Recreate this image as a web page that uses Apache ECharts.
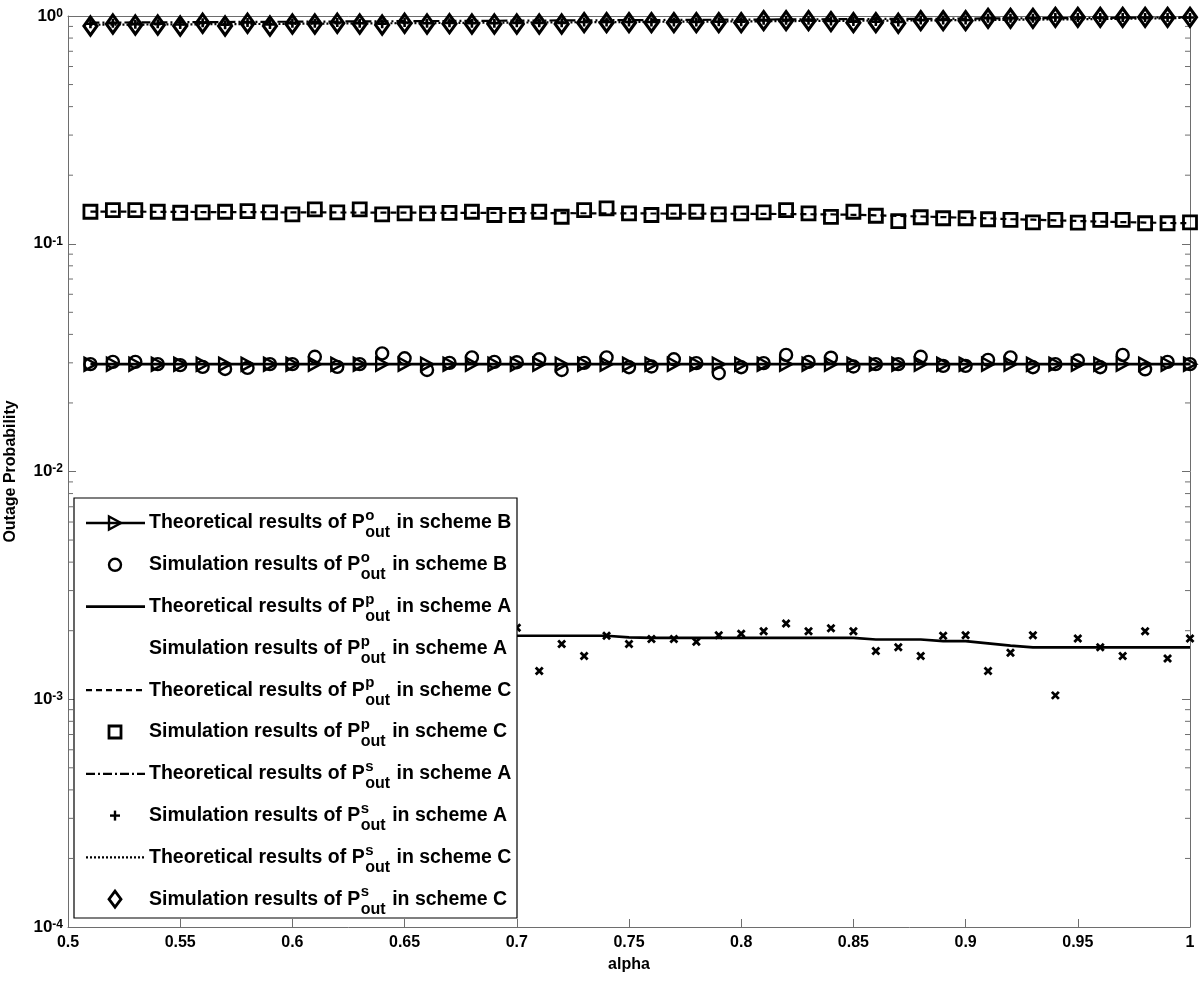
<!DOCTYPE html>
<html>
<head>
<meta charset="utf-8">
<title>Outage Probability vs alpha</title>
<script src="https://cdn.jsdelivr.net/npm/echarts@6/dist/echarts.min.js"></script>
<style>
  html, body { margin: 0; padding: 0; background: #fff; }
  #chart { width: 1200px; height: 981px; }
</style>
</head>
<body>
<div id="chart"></div>
<script>
// x values
const alpha = [0.51, 0.52, 0.53, 0.54, 0.55, 0.56, 0.57, 0.58, 0.59, 0.60,
  0.61, 0.62, 0.63, 0.64, 0.65, 0.66, 0.67, 0.68, 0.69, 0.70,
  0.71, 0.72, 0.73, 0.74, 0.75, 0.76, 0.77, 0.78, 0.79, 0.80,
  0.81, 0.82, 0.83, 0.84, 0.85, 0.86, 0.87, 0.88, 0.89, 0.90,
  0.91, 0.92, 0.93, 0.94, 0.95, 0.96, 0.97, 0.98, 0.99, 1.00];

// P^o_out, scheme B
const theoryOB = [0.0296, 0.0296, 0.0296, 0.0296, 0.0296, 0.0296, 0.0296, 0.0296, 0.0296, 0.0296,
  0.0296, 0.0296, 0.0296, 0.0296, 0.0296, 0.0296, 0.0296, 0.0296, 0.0296, 0.0296,
  0.0296, 0.0296, 0.0296, 0.0296, 0.0296, 0.0296, 0.0296, 0.0296, 0.0296, 0.0296,
  0.0296, 0.0296, 0.0296, 0.0296, 0.0296, 0.0296, 0.0296, 0.0296, 0.0296, 0.0296,
  0.0296, 0.0296, 0.0296, 0.0296, 0.0296, 0.0296, 0.0296, 0.0296, 0.0296, 0.0296];
const simOB = [0.0296, 0.0303, 0.0303, 0.0296, 0.0293, 0.0288, 0.0282, 0.0285, 0.0296, 0.0296,
  0.0319, 0.0288, 0.0296, 0.0330, 0.0314, 0.0279, 0.0300, 0.0317, 0.0303, 0.0302,
  0.0311, 0.0279, 0.0300, 0.0317, 0.0287, 0.0289, 0.0311, 0.0299, 0.0270, 0.0287,
  0.0299, 0.0325, 0.0303, 0.0316, 0.0289, 0.0296, 0.0296, 0.0319, 0.0291, 0.0291,
  0.0309, 0.0317, 0.0287, 0.0296, 0.0307, 0.0287, 0.0325, 0.0281, 0.0303, 0.0296];

// P^p_out, scheme A
const theoryPA = [0.00192, 0.00192, 0.00192, 0.00192, 0.00192, 0.00192, 0.00192, 0.00192, 0.00192, 0.00192,
  0.00192, 0.00192, 0.00192, 0.00192, 0.00192, 0.00192, 0.00192, 0.00192, 0.00192, 0.00190,
  0.00190, 0.00190, 0.00190, 0.00190, 0.00187, 0.00186, 0.00186, 0.00186, 0.00186, 0.00186,
  0.00186, 0.00186, 0.00186, 0.00186, 0.00186, 0.00183, 0.00183, 0.00183, 0.00180, 0.00180,
  0.00176, 0.00172, 0.00169, 0.00169, 0.00169, 0.00169, 0.00169, 0.00169, 0.00169, 0.00169];
const simPA = [0.00185, 0.00172, 0.00195, 0.00160, 0.00188, 0.00178, 0.00201, 0.00166, 0.00190, 0.00183,
  0.00170, 0.00197, 0.00176, 0.00188, 0.00158, 0.00192, 0.00181, 0.00174, 0.00199, 0.00206,
  0.00133, 0.00175, 0.00155, 0.00190, 0.00175, 0.00184, 0.00184, 0.00179, 0.00191, 0.00194,
  0.00199, 0.00215, 0.00199, 0.00205, 0.00199, 0.00163, 0.00169, 0.00155, 0.00190, 0.00191,
  0.00133, 0.00160, 0.00191, 0.00104, 0.00185, 0.00169, 0.00155, 0.00199, 0.00151, 0.00185];

// P^p_out, scheme C
const theoryPC = [0.1385, 0.1385, 0.1383, 0.1381, 0.1380, 0.1378, 0.1377, 0.1376, 0.1375, 0.1374,
  0.1373, 0.1372, 0.1371, 0.1370, 0.1369, 0.1368, 0.1367, 0.1366, 0.1365, 0.1364,
  0.1363, 0.1362, 0.1361, 0.1360, 0.1359, 0.1358, 0.1357, 0.1356, 0.1355, 0.1354,
  0.1352, 0.1350, 0.1348, 0.1345, 0.1340, 0.1333, 0.1325, 0.1317, 0.1309, 0.1300,
  0.1292, 0.1283, 0.1275, 0.1267, 0.1259, 0.1251, 0.1245, 0.1239, 0.1234, 0.1230];
const simPC = [0.1382, 0.1406, 0.1406, 0.1382, 0.1368, 0.1374, 0.1382, 0.1392, 0.1374, 0.1346,
  0.1416, 0.1374, 0.1416, 0.1346, 0.1360, 0.1360, 0.1367, 0.1382, 0.1337, 0.1337,
  0.1382, 0.1314, 0.1406, 0.1430, 0.1360, 0.1337, 0.1382, 0.1382, 0.1346, 0.1360,
  0.1374, 0.1406, 0.1360, 0.1313, 0.1382, 0.1327, 0.1258, 0.1307, 0.1294, 0.1294,
  0.1281, 0.1272, 0.1242, 0.1272, 0.1237, 0.1272, 0.1272, 0.1230, 0.1230, 0.1242];

// P^s_out, scheme A
const theorySA = [0.935, 0.936, 0.937, 0.938, 0.939, 0.940, 0.941, 0.942, 0.943, 0.944,
  0.945, 0.946, 0.947, 0.948, 0.949, 0.950, 0.951, 0.952, 0.953, 0.954,
  0.955, 0.956, 0.957, 0.958, 0.959, 0.960, 0.961, 0.962, 0.963, 0.964,
  0.965, 0.966, 0.967, 0.968, 0.969, 0.970, 0.971, 0.972, 0.973, 0.974,
  0.976, 0.977, 0.978, 0.979, 0.980, 0.981, 0.983, 0.984, 0.986, 0.988];
const simSA = [0.925, 0.930, 0.921, 0.925, 0.918, 0.935, 0.916, 0.937, 0.918, 0.930,
  0.930, 0.937, 0.930, 0.925, 0.937, 0.930, 0.933, 0.930, 0.930, 0.933,
  0.933, 0.933, 0.941, 0.941, 0.941, 0.941, 0.941, 0.941, 0.943, 0.943,
  0.957, 0.957, 0.957, 0.951, 0.945, 0.945, 0.941, 0.960, 0.960, 0.960,
  0.977, 0.977, 0.977, 0.985, 0.985, 0.985, 0.985, 0.985, 0.985, 0.985];

// P^s_out, scheme C
const theorySC = [0.915, 0.916, 0.917, 0.918, 0.919, 0.920, 0.921, 0.922, 0.923, 0.924,
  0.926, 0.927, 0.928, 0.929, 0.930, 0.931, 0.932, 0.933, 0.935, 0.936,
  0.937, 0.938, 0.939, 0.940, 0.941, 0.943, 0.944, 0.945, 0.946, 0.947,
  0.948, 0.950, 0.951, 0.952, 0.953, 0.954, 0.955, 0.957, 0.958, 0.959,
  0.960, 0.962, 0.964, 0.966, 0.968, 0.970, 0.972, 0.975, 0.978, 0.982];
const simSC = [0.904, 0.922, 0.913, 0.913, 0.904, 0.929, 0.904, 0.929, 0.904, 0.922,
  0.922, 0.929, 0.922, 0.913, 0.929, 0.922, 0.925, 0.922, 0.922, 0.922,
  0.922, 0.922, 0.935, 0.935, 0.935, 0.935, 0.935, 0.935, 0.935, 0.935,
  0.954, 0.954, 0.954, 0.945, 0.935, 0.935, 0.929, 0.954, 0.954, 0.954,
  0.977, 0.977, 0.977, 0.987, 0.987, 0.987, 0.987, 0.987, 0.987, 0.987];

// axis ticks
const yDecades = [1e-4, 1e-3, 1e-2, 1e-1];
const yMinorSteps = [2, 3, 4, 5, 6, 7, 8, 9];

// legend text
const legendHead = ['Theoretical results of P', 'Simulation results of P',
  'Theoretical results of P', 'Simulation results of P',
  'Theoretical results of P', 'Simulation results of P',
  'Theoretical results of P', 'Simulation results of P',
  'Theoretical results of P', 'Simulation results of P'];
const legendSup = ['o', 'o', 'p', 'p', 'p', 'p', 's', 's', 's', 's'];
const legendScheme = ['B', 'B', 'A', 'A', 'C', 'C', 'A', 'A', 'C', 'C'];

const FONT = '"Liberation Sans", Arial, Helvetica, sans-serif';
const AXIS_COLOR = '#6e6e6e';
const xMin = 0.5, xMax = 1;

const minorTicks = [];
yDecades.forEach(d => yMinorSteps.forEach(k => minorTicks.push(d * k)));

const zip = (ys) => alpha.map((a, i) => [a, ys[i]]);

// one entry per legend row, in order
const styles = [
  { data: theoryOB, line: 'solid', mark: 'triangle' },
  { data: simOB, line: null, mark: 'circle' },
  { data: theoryPA, line: 'solid', mark: null },
  { data: simPA, line: null, mark: 'cross' },
  { data: theoryPC, line: [6, 4], mark: null },
  { data: simPC, line: null, mark: 'rect' },
  { data: theorySA, line: [9, 3, 2, 3], mark: null },
  { data: simSA, line: null, mark: 'plus' },
  { data: theorySC, line: [2, 2], mark: null },
  { data: simSC, line: null, mark: 'diamond' }
];

const symbolMap = {
  triangle: { symbol: 'triangle', size: [13, 12], rotate: -90, bw: 2.4 },
  circle: { symbol: 'circle', size: 12, bw: 2.4 },
  rect: { symbol: 'rect', size: 13, bw: 2.8 },
  diamond: { symbol: 'diamond', size: [13, 18], bw: 3.2 },
  plus: { symbol: 'path://M5,0L5,10M0,5L10,5', size: 9, bw: 2.6 },
  cross: { symbol: 'path://M0,0L10,10M10,0L0,10', size: 7, bw: 2.8 }
};

const series = styles.map((s, i) => {
  const name = legendHead[i] + legendSup[i] + ' ' + legendScheme[i];
  const sym = s.mark ? symbolMap[s.mark] : null;
  const stroked = s.mark === 'plus' || s.mark === 'cross';
  const item = sym
    ? { color: stroked ? '#000' : 'rgba(0,0,0,0)', borderColor: '#000', borderWidth: sym.bw, opacity: 1 }
    : { color: '#000', opacity: 1 };
  if (s.line) {
    return {
      type: 'line', name, data: zip(s.data),
      showSymbol: !!sym, symbol: sym ? sym.symbol : 'none',
      symbolSize: sym ? sym.size : 0, symbolRotate: sym ? (sym.rotate || 0) : 0,
      lineStyle: { color: '#000', width: s.line === 'solid' ? 2.6 : 2.2, type: s.line },
      itemStyle: item, clip: false, z: 3 + i
    };
  }
  return {
    type: 'scatter', name, data: zip(s.data),
    symbol: sym.symbol, symbolSize: sym.size, symbolRotate: sym.rotate || 0,
    itemStyle: item, clip: false, z: 3 + i
  };
});

// log-spaced minor ticks on left and right frame edges
series.push({
  type: 'custom', name: 'minor ticks', silent: true, z: 1,
  data: minorTicks.map(v => [xMin, v]),
  renderItem: (params, api) => {
    const y = api.coord([xMin, api.value(1)])[1];
    const cs = params.coordSys;
    const st = { stroke: AXIS_COLOR, lineWidth: 1 };
    return {
      type: 'group', children: [
        { type: 'line', shape: { x1: cs.x, y1: y, x2: cs.x + 5, y2: y }, style: st },
        { type: 'line', shape: { x1: cs.x + cs.width - 5, y1: y, x2: cs.x + cs.width, y2: y }, style: st }
      ]
    };
  }
});

// legend, drawn as graphic so sup/subscripts can stack
const measureCtx = document.createElement('canvas').getContext('2d');
function textWidth(str, font) {
  measureCtx.font = font;
  return measureCtx.measureText(str).width;
}
const mainFont = 'bold 19.5px ' + FONT;
const supFont = 'bold 15px ' + FONT;
const subFont = 'bold 16px ' + FONT;

const legendBox = { x: 74, y: 498, w: 443, h: 420 };
const rowY0 = 523, rowGap = 41.8;
const sampleX1 = 86, sampleX2 = 145, markX = 115, textX = 149;

function markShape(kind, cx, cy) {
  const st = { stroke: '#000', lineWidth: 2.4, fill: 'none' };
  switch (kind) {
    case 'triangle':
      return [{ type: 'polygon', shape: { points: [[cx - 6, cy - 6.5], [cx + 6, cy], [cx - 6, cy + 6.5]] }, style: st }];
    case 'circle':
      return [{ type: 'circle', shape: { cx, cy, r: 6 }, style: st }];
    case 'rect':
      return [{ type: 'rect', shape: { x: cx - 6, y: cy - 6, width: 12, height: 12 }, style: Object.assign({}, st, { lineWidth: 2.8 }) }];
    case 'diamond':
      return [{ type: 'polygon', shape: { points: [[cx, cy - 8], [cx + 6, cy], [cx, cy + 8], [cx - 6, cy]] }, style: Object.assign({}, st, { lineWidth: 2.8 }) }];
    case 'plus':
      return [
        { type: 'line', shape: { x1: cx - 5, y1: cy, x2: cx + 5, y2: cy }, style: st },
        { type: 'line', shape: { x1: cx, y1: cy - 5, x2: cx, y2: cy + 5 }, style: st }
      ];
    default:
      return [];
  }
}

const legendChildren = [{
  type: 'rect', shape: { x: legendBox.x, y: legendBox.y, width: legendBox.w, height: legendBox.h },
  style: { fill: '#fff', stroke: '#000', lineWidth: 1.2 }
}];
styles.forEach((s, i) => {
  const cy = rowY0 + i * rowGap;
  if (s.line) {
    legendChildren.push({
      type: 'line', shape: { x1: sampleX1, y1: cy, x2: sampleX2, y2: cy },
      style: { stroke: '#000', lineWidth: s.line === 'solid' ? 2.6 : 2.2, lineDash: s.line === 'solid' ? null : s.line }
    });
  }
  // the scheme-A P^p simulation row has no sample in the reference legend
  if (s.mark && s.mark !== 'cross') legendChildren.push(...markShape(s.mark, markX, cy));
  const w1 = textWidth(legendHead[i], mainFont);
  const w2 = textWidth('out', subFont);
  legendChildren.push(
    { type: 'text', x: textX, y: cy, style: { text: legendHead[i], font: mainFont, fill: '#000', verticalAlign: 'middle' } },
    { type: 'text', x: textX + w1 + 0.5, y: cy - 7, style: { text: legendSup[i], font: supFont, fill: '#000', verticalAlign: 'middle' } },
    { type: 'text', x: textX + w1 + 0.5, y: cy + 10, style: { text: 'out', font: subFont, fill: '#000', verticalAlign: 'middle' } },
    { type: 'text', x: textX + w1 + w2 + 7, y: cy, style: { text: 'in scheme ' + legendScheme[i], font: mainFont, fill: '#000', verticalAlign: 'middle' } }
  );
});
legendChildren.forEach(c => { c.z = 50; });

const axisCommon = {
  axisLine: { show: true, lineStyle: { color: AXIS_COLOR, width: 1 } },
  axisTick: { show: true, inside: true, length: 8, lineStyle: { color: AXIS_COLOR } },
  splitLine: { show: false }
};

const option = {
  animation: false,
  backgroundColor: '#fff',
  grid: { left: 68, right: 10, top: 16, bottom: 54, containLabel: false, outerBoundsMode: 'none' },
  xAxis: [
    Object.assign({
      type: 'value', min: xMin, max: xMax, interval: 0.05, position: 'bottom',
      name: 'alpha', nameLocation: 'middle', nameGap: 30,
      nameTextStyle: { fontFamily: FONT, fontWeight: 'bold', fontSize: 16, color: '#000' },
      axisLabel: {
        margin: 8, fontFamily: FONT, fontWeight: 'bold', fontSize: 16, color: '#000',
        formatter: v => String(+v.toFixed(2))
      }
    }, axisCommon),
    Object.assign({
      type: 'value', min: xMin, max: xMax, interval: 0.05, position: 'top',
      axisLabel: { show: false }
    }, axisCommon)
  ],
  yAxis: [
    Object.assign({
      type: 'log', logBase: 10, min: 1e-4, max: 1, position: 'left',
      name: 'Outage Probability', nameLocation: 'middle', nameGap: 49,
      nameTextStyle: { fontFamily: FONT, fontWeight: 'bold', fontSize: 16, color: '#000' },
      axisLabel: {
        margin: 5,
        formatter: v => '{b|10}{s|' + Math.round(Math.log10(v)) + '}',
        rich: {
          b: { fontFamily: FONT, fontWeight: 'bold', fontSize: 17, color: '#000', lineHeight: 17, padding: [9, 0, 0, 0], verticalAlign: 'bottom' },
          s: { fontFamily: FONT, fontWeight: 'bold', fontSize: 12, color: '#000', lineHeight: 12, verticalAlign: 'top' }
        }
      }
    }, axisCommon),
    Object.assign({
      type: 'log', logBase: 10, min: 1e-4, max: 1, position: 'right',
      axisLabel: { show: false }
    }, axisCommon)
  ],
  graphic: [{ type: 'group', z: 50, children: legendChildren }],
  series
};

const chart = echarts.init(document.getElementById('chart'), null, { renderer: 'canvas' });
chart.setOption(option);
window.addEventListener('resize', () => chart.resize());
</script>
</body>
</html>
